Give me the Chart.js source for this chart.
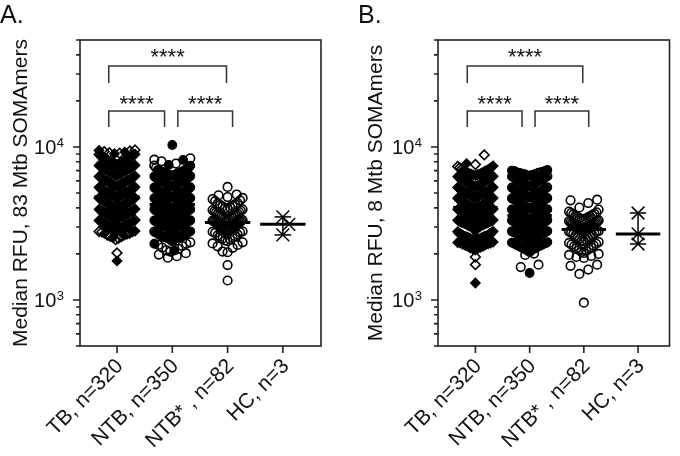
<!DOCTYPE html>
<html lang="en">
<head>
    <meta charset="UTF-8">
    <meta name="viewport" content="width=device-width, initial-scale=1.0">
    <title>Median RFU, Mtb SOMAmers</title>
    <script src="https://cdn.jsdelivr.net/npm/chart.js"></script>
    <style>
        body {
            margin: 0;
            background: #fff;
        }
        .wrap {
            position: relative;
            width: 680px;
            height: 456px;
        }
        .panel {
            position: absolute;
            top: 0;
            width: 340px;
            height: 456px;
        }
    </style>
</head>
<body>

<div class="wrap">
    <div class="panel" style="left:0"><canvas id="chartA" width="340" height="456"></canvas></div>
    <div class="panel" style="left:340px"><canvas id="chartB" width="340" height="456"></canvas></div>
</div>

<script>
    const categories = ['TB, n=320', 'NTB, n=350', 'NTB* , n=82', 'HC, n=3'];
    const yTicks = [500, 600, 700, 800, 900, 1000, 2000, 3000, 4000, 5000, 6000, 7000, 8000, 9000,
                    10000, 20000, 30000, 40000, 50000];
    const majorTicks = [1000, 10000];
    const sigLabel = '****';

    // Panel A: 83 Mtb SOMAmers
    const tbOpenA = [9560, 9410, 9320, 9160, 9090, 8920, 8830, 8630, 8500, 8300, 8190, 7980, 7850, 7680, 7490,
        7220, 6950, 6710, 6390, 6100, 5840, 5550, 5300, 5060, 4870, 4630, 4400, 4160, 3970, 3810, 3680, 3520, 3400, 3330,
        3240, 3170, 3110, 3070, 3000, 2980, 2920, 2890, 2840, 2800, 2780, 2730, 2700, 2650, 2610, 2590, 2530, 2480, 2030];
    const tbFilledA = [9490, 9260, 9040,
        8960, 8840, 8770, 8690, 8580, 8520, 8430, 8340, 8290, 8210, 8130, 8060, 8010,
        7970, 7920, 7860, 7810, 7770, 7720, 7650, 7600, 7570, 7510, 7470, 7420, 7380, 7330, 7290, 7240, 7200, 7160,
        7130, 7090, 7060, 7030, 7010,
        6980, 6930, 6900, 6860, 6820, 6770, 6740, 6700, 6650, 6610, 6580, 6530, 6500, 6460, 6420, 6390, 6350, 6310,
        6290, 6250, 6220, 6190, 6160, 6140, 6110, 6090, 6060, 6040, 6030, 6020, 6010, 6000,
        5980, 5950, 5930, 5900, 5880, 5850, 5830, 5800, 5780, 5760, 5730, 5710, 5680, 5660, 5640, 5610, 5590, 5560,
        5540, 5520, 5500, 5470, 5450, 5430, 5410, 5390, 5360, 5340, 5320, 5300, 5280, 5260, 5240, 5220, 5200, 5180,
        5160, 5150, 5130, 5110, 5100, 5080, 5070, 5060, 5050, 5040, 5030, 5020, 5010, 5000,
        4990, 4970, 4960, 4940, 4920, 4910, 4890, 4870, 4860, 4840, 4830, 4810, 4790, 4780, 4760, 4740, 4730, 4720,
        4700, 4680, 4670, 4650, 4640, 4620, 4610, 4590, 4580, 4560, 4550, 4540, 4530, 4520, 4510, 4500,
        4490, 4480, 4460, 4450, 4440, 4420, 4410, 4400, 4380, 4370, 4350, 4340, 4330, 4310, 4300, 4290, 4270, 4260,
        4250, 4230, 4220, 4200, 4190, 4170, 4160, 4150, 4140, 4130, 4120, 4100, 4090, 4080, 4070, 4060, 4050, 4040,
        4030, 4020, 4010, 4005, 4015, 4025,
        3990, 3970, 3950, 3930, 3910, 3890, 3870, 3850, 3830, 3810, 3800, 3790, 3770, 3760, 3740, 3720, 3700, 3690,
        3670, 3650, 3640, 3620, 3610, 3600, 3590, 3580, 3570, 3560, 3550, 3540, 3530, 3520, 3510, 3500,
        3480, 3450, 3420, 3390, 3360, 3340, 3310, 3290, 3260, 3240, 3210, 3190, 3170, 3150, 3130, 3110, 3090, 3070,
        3050, 3030, 3020, 3000,
        2980, 2940, 2900, 2870, 2820, 2780, 2720, 2640, 2560, 1800];
    const ntbOpenA = [8420, 8260, 8050, 7780, 7540, 7310, 7050, 6780,
        6500, 6200, 5900, 5600, 5300, 5000, 4700, 4400, 4100, 3800, 3500, 3250, 3000, 2800, 2680, 2600,
        2460, 2420, 2380, 2330, 2290, 2250, 2200, 2160, 2110, 2070, 2020, 1980, 1930, 1890];
    const ntbFilledA = [10300, 8220, 7630,
        7540, 7330, 7190, 7080, 7000,
        6970, 6930, 6880, 6840, 6800, 6750, 6710, 6670, 6620, 6580, 6540, 6500, 6460, 6420, 6380, 6340, 6300, 6270,
        6230, 6200, 6170, 6140, 6110, 6080, 6060, 6040, 6020, 6000,
        5980, 5950, 5920, 5890, 5860, 5830, 5800, 5770, 5740, 5710, 5680, 5650, 5620, 5600, 5570, 5540, 5510, 5490,
        5460, 5440, 5410, 5390, 5360, 5340, 5310, 5290, 5270, 5240, 5220, 5200, 5180, 5160, 5140, 5120, 5100, 5090,
        5070, 5060, 5050, 5040, 5030, 5020, 5010, 5005, 5000,
        4990, 4970, 4950, 4940, 4920, 4900, 4890, 4870, 4850, 4840, 4820, 4800, 4790, 4770, 4750, 4740, 4720, 4700,
        4690, 4670, 4660, 4640, 4630, 4610, 4600, 4590, 4570, 4560, 4550, 4540, 4530, 4520, 4510, 4505, 4500,
        4490, 4480, 4470, 4450, 4440, 4430, 4420, 4400, 4390, 4380, 4370, 4350, 4340, 4330, 4320, 4310, 4290, 4280,
        4270, 4260, 4250, 4240, 4230, 4210, 4200, 4190, 4180, 4170, 4160, 4150, 4140, 4130, 4120, 4110, 4100, 4090,
        4080, 4070, 4060, 4050, 4045, 4040, 4035, 4030, 4020, 4015, 4010, 4000,
        3990, 3980, 3960, 3950, 3940, 3920, 3910, 3900, 3880, 3870, 3860, 3840, 3830, 3820, 3800, 3790, 3780, 3760,
        3750, 3740, 3720, 3710, 3700, 3690, 3670, 3660, 3650, 3640, 3620, 3610, 3600, 3590, 3580, 3570, 3560, 3550,
        3545, 3540, 3535, 3530, 3525, 3520, 3515, 3510, 3505, 3500, 3630, 3730, 3810, 3970,
        3490, 3470, 3460, 3440, 3430, 3410, 3400, 3380, 3370, 3350, 3340, 3320, 3310, 3290, 3280, 3260, 3250, 3230,
        3220, 3200, 3190, 3180, 3160, 3150, 3140, 3120, 3110, 3100, 3090, 3080, 3070, 3060, 3050, 3040, 3035, 3030,
        3025, 3020, 3015, 3010, 3005, 3000, 3130, 3270, 3390,
        2990, 2970, 2950, 2930, 2910, 2890, 2870, 2850, 2830, 2810, 2790, 2770, 2750, 2730, 2710, 2690, 2670, 2650,
        2630, 2610, 2600, 2590, 2580, 2570, 2560, 2550, 2540, 2530, 2520, 2510, 2960, 2880, 2760, 2640, 2570, 2530,
        2470, 2330, 2100];
    const ntbStarA = [5480, 4890, 4830, 4700, 4640, 4560, 4480, 4420,
        4300, 4260, 4210, 4170, 4120, 4080, 4040, 3990, 3950, 3910, 3870, 3830, 3790, 3750, 3720, 3680, 3650,
        3610, 3580, 3550, 3520, 3490, 3460, 3430, 3400, 3380, 3350, 3330, 3300, 3280, 3260, 3240, 3220,
        3200, 3180, 3160, 3140, 3120, 3100, 3080, 3060, 3040, 3020, 3000, 2980, 2960, 2940, 2920, 2900, 2880,
        2860, 2840, 2810, 2790, 2770, 2740,
        2680, 2640, 2610, 2580, 2550, 2520, 2490, 2450, 2420, 2380, 2340, 2290, 2240, 2190,
        2070, 2050, 1690, 1340];
    const hcA = [3490, 3120, 2660];
    const mediansA = [4730, 4200, 3210, 3120];

    // Panel B: 8 Mtb SOMAmers
    const tbOpenB = [8870, 7680, 7450, 7300, 7160, 6600, 6300, 5900, 5500, 5100, 4700,
        4300, 3900, 3500, 3200, 2900, 2700, 2600, 2480, 2360, 2250, 2180, 1910, 1700];
    const tbFilledB = [7780, 7510, 7340, 7190, 7060, 7010,
        6960, 6910, 6850, 6800, 6740, 6690, 6640, 6590, 6540, 6490, 6440, 6400, 6350, 6310, 6270, 6230, 6190, 6160,
        6130, 6100, 6070, 6050, 6030, 6010,
        5980, 5940, 5910, 5880, 5850, 5820, 5780, 5750, 5720, 5690, 5660, 5630, 5600, 5570, 5540, 5520, 5490, 5460,
        5440, 5410, 5390, 5360, 5340, 5310, 5290, 5270, 5250, 5230, 5210, 5190, 5170, 5150, 5130, 5110, 5090, 5080,
        5060, 5050, 5040, 5030, 5015, 5000,
        4990, 4970, 4950, 4930, 4910, 4890, 4870, 4850, 4830, 4810, 4790, 4770, 4760, 4740, 4720, 4700, 4690, 4670,
        4650, 4640, 4620, 4610, 4590, 4580, 4570, 4560, 4550, 4540, 4530, 4520, 4510, 4500,
        4490, 4470, 4460, 4440, 4430, 4410, 4400, 4380, 4370, 4350, 4340, 4320, 4310, 4290, 4280, 4260, 4250, 4230,
        4220, 4200, 4190, 4180, 4160, 4150, 4140, 4120, 4110, 4100, 4090, 4080, 4070, 4060, 4050, 4040, 4030, 4020,
        4010, 4000,
        3990, 3980, 3970, 3950, 3940, 3930, 3910, 3900, 3890, 3870, 3860, 3850, 3830, 3820, 3810, 3790, 3780, 3770,
        3750, 3740, 3730, 3710, 3700, 3690, 3680, 3660, 3650, 3640, 3630, 3610, 3600, 3590, 3580, 3570, 3560, 3550,
        3540, 3530, 3520, 3510, 3505, 3500, 3545, 3595, 3645, 3695, 3755, 3805, 3855, 3905, 3955, 3985,
        3490, 3470, 3450, 3430, 3410, 3390, 3370, 3350, 3330, 3310, 3290, 3270, 3250, 3230, 3210, 3190, 3170, 3150,
        3130, 3110, 3090, 3070, 3050, 3030, 3010, 3000, 3480, 3440, 3400, 3360, 3320, 3280, 3240, 3200, 3160, 3120,
        3080, 3040, 3020, 3060, 3100, 3140, 3180, 3220, 3260, 3300,
        2990, 2960, 2940, 2910, 2890, 2860, 2840, 2810, 2790, 2760, 2740, 2720, 2700, 2680, 2660, 2640, 2620, 2600,
        2590, 2580, 2570, 2560, 2550, 2540, 2530, 2520, 2510, 2500, 2650, 2610,
        2490, 2470, 2450, 2430, 2410, 2390, 2370, 2350, 2330, 2310, 2290, 2270, 2240, 2210, 2180, 2150, 2120,
        1290];
    const ntbOpenB = [6950, 6820, 6760, 6700, 6610, 6530, 6440, 6350, 6240, 6150, 5800, 5400, 5000, 4600, 4300,
        4000, 3700, 3400, 3100, 2800, 2600, 2450, 2350, 2280, 2220, 2160, 2110, 2060, 2010, 1970, 1700, 1640];
    const ntbFilledB = [7070, 7010,
        6960, 6900, 6850, 6790, 6740, 6680, 6630, 6570, 6520, 6470, 6420, 6370, 6320, 6270, 6230, 6180, 6140, 6090,
        6050, 6010,
        5970, 5930, 5890, 5850, 5810, 5770, 5730, 5700, 5660, 5620, 5590, 5560, 5520, 5490, 5460, 5430, 5400, 5370,
        5340, 5310, 5280, 5260, 5230, 5200, 5180, 5150, 5130, 5110, 5090, 5070, 5060, 5040, 5030, 5020, 5010, 5000,
        4990, 4960, 4940, 4920, 4890, 4870, 4850, 4830, 4810, 4790, 4770, 4750, 4730, 4710, 4690, 4670, 4660, 4640,
        4620, 4610, 4590, 4580, 4560, 4550, 4530, 4520, 4510, 4500,
        4490, 4470, 4450, 4430, 4410, 4390, 4370, 4360, 4340, 4320, 4300, 4290, 4270, 4250, 4240, 4220, 4210, 4190,
        4180, 4160, 4150, 4130, 4120, 4110, 4090, 4080, 4070, 4060, 4050, 4040, 4030, 4020, 4015, 4010, 4005, 4000,
        3990, 3970, 3950, 3940, 3920, 3900, 3890, 3870, 3850, 3840, 3820, 3810, 3790, 3780, 3760, 3750, 3730, 3720,
        3700, 3690, 3680, 3660, 3650, 3640, 3630, 3620, 3610, 3600, 3590, 3580, 3570, 3565, 3560, 3555, 3550, 3545,
        3535, 3530, 3520, 3510, 3500, 3490, 3480, 3470, 3460, 3450, 3440, 3430, 3420, 3410, 3400, 3390, 3380, 3370,
        3360, 3350, 3340, 3330, 3320, 3310, 3300, 3290, 3280, 3270, 3260, 3250, 3240, 3230, 3220, 3210, 3200, 3190,
        3180, 3170, 3160, 3150, 3140, 3130, 3120, 3110, 3100, 3090, 3080, 3070, 3060, 3050, 3040, 3030, 3020, 3010,
        3000, 3525, 3465, 3395, 3335, 3255, 3185, 3115,
        2990, 2980, 2970, 2960, 2950, 2940, 2930, 2920, 2910, 2900, 2890, 2880, 2870, 2860, 2850, 2840, 2830, 2820,
        2810, 2800, 2790, 2780, 2770, 2760, 2750, 2740, 2730, 2720, 2710, 2700, 2690, 2680, 2670, 2660, 2650, 2640,
        2630, 2620, 2610, 2600, 2590, 2580, 2570, 2560, 2550, 2540, 2530, 2520, 2510, 2500, 2985, 2875, 2765, 2655,
        2545, 2935, 2825, 2715,
        2490, 2470, 2450, 2430, 2410, 2390, 2370, 2350, 2330, 2310, 2290, 2270, 2250, 2230, 2210, 2190, 2170, 2150,
        2130, 2110,
        1500];
    const ntbStarB = [4520, 4480, 4300, 4020, 3900,
        3780, 3740, 3700, 3660, 3620, 3580, 3550, 3520, 3490, 3460, 3430, 3400, 3370, 3340, 3310, 3280, 3250, 3220,
        3190, 3160, 3140, 3120, 3100, 3080, 3060, 3040, 3020, 3000, 2990, 2980, 2960, 2950, 2940, 2930, 2920, 2900,
        2880, 2860, 2840, 2820, 2800, 2780, 2750, 2720, 2690, 2660, 2630, 2600, 2570, 2540, 2510, 2480, 2450, 2420,
        2390, 2360, 2330, 2300, 2270, 2240, 2210, 2180, 2150, 2120, 2090, 2060, 2030, 2000, 1970, 1940, 1910, 1880,
        1700, 1670, 1580, 1480, 960];
    const hcB = [3700, 2700, 2320];
    const mediansB = [4020, 3560, 2890, 2700];

    // significance brackets, in axis units
    const brackets = [
        { from: -0.15, to: 1.98, bar: 33800, leg: 26200, text: 41800 },
        { from: -0.15, to: 0.86, bar: 17200, leg: 13500, text: 20600 },
        { from: 1.10, to: 2.09, bar: 17200, leg: 13500, text: 20600 }
    ];

    const FONT = '"Liberation Sans", Arial, Helvetica, sans-serif';
    const Y_MIN = 500, Y_MAX = 50000;
    const W = 340, H = 456, PAD_T = 40, PAD_B = 110;

    // column scatter layout: rows by value, spread sideways, capped width
    function swarm(groups, cat, pxPerCat, pxPerDecade, half) {
        const pts = [];
        groups.forEach(g => g.vals.forEach(v => pts.push({ v: v, open: g.open })));
        const binH = 11 / pxPerDecade;
        const bins = new Map();
        pts.forEach(p => {
            const b = Math.floor(Math.log10(p.v) / binH);
            if (!bins.has(b)) bins.set(b, []);
            bins.get(b).push(p);
        });
        bins.forEach(list => {
            list.sort((a, b) => a.v - b.v);
            const n = list.length;
            const step = n > 1 ? Math.min(9, 2 * half / (n - 1)) : 0;
            list.forEach((p, k) => {
                let slot;
                if (n % 2) slot = k === 0 ? 0 : Math.ceil(k / 2) * (k % 2 ? -1 : 1);
                else slot = (Math.floor(k / 2) + 0.5) * (k % 2 ? 1 : -1);
                p.x = cat + slot * step / pxPerCat;
            });
        });
        return pts;
    }

    // small groups: push markers aside when they would touch
    function dodge(vals, cat, pxPerCat, pxPerDecade, size) {
        const placed = [];
        vals.slice().sort((a, b) => b - a).forEach(v => {
            const y = Math.log10(v) * pxPerDecade;
            const tries = [0, 6, -6, 12, -12];
            let dx = 0;
            for (const t of tries) {
                if (placed.every(q => (q.dx - t) ** 2 + (q.y - y) ** 2 >= size * size)) { dx = t; break; }
            }
            placed.push({ v: v, y: y, dx: dx });
        });
        return placed.map(q => ({ x: cat + q.dx / pxPerCat, y: q.v }));
    }

    function pointSet(pts, open, style, radius, order) {
        return {
            type: 'scatter',
            data: pts.filter(p => p.open === open).map(p => ({ x: p.x, y: p.v })),
            pointStyle: style,
            pointRadius: radius,
            pointBorderWidth: open ? 1.6 : 1.2,
            pointBorderColor: '#000',
            pointBackgroundColor: open ? 'rgba(0,0,0,0)' : '#000',
            order: order
        };
    }

    function lineSet(points, width) {
        return {
            type: 'line',
            data: points,
            borderColor: '#000',
            borderWidth: width,
            pointRadius: 0,
            fill: false,
            order: 0
        };
    }

    function decorPlugin(p) {
        return {
            id: 'decor',
            afterDraw(chart) {
                const ctx = chart.ctx;
                const a = chart.chartArea;
                const xs = chart.scales.x, ys = chart.scales.y;
                ctx.save();

                // frame and ticks
                ctx.strokeStyle = '#222';
                ctx.lineWidth = 1.6;
                ctx.strokeRect(a.left, a.top, a.right - a.left, a.bottom - a.top);
                ctx.beginPath();
                yTicks.forEach(v => {
                    const y = ys.getPixelForValue(v);
                    const len = majorTicks.includes(v) ? 7 : 4;
                    ctx.moveTo(a.left, y);
                    ctx.lineTo(a.left - len, y);
                });
                categories.forEach((c, i) => {
                    const x = xs.getPixelForValue(i);
                    ctx.moveTo(x, a.bottom);
                    ctx.lineTo(x, a.bottom + 7);
                });
                ctx.stroke();

                // brackets
                ctx.strokeStyle = '#333';
                ctx.lineWidth = 1.5;
                ctx.fillStyle = '#111';
                ctx.font = '22px ' + FONT;
                ctx.textAlign = 'center';
                ctx.textBaseline = 'alphabetic';
                brackets.forEach(b => {
                    const x1 = xs.getPixelForValue(b.from), x2 = xs.getPixelForValue(b.to);
                    const yb = ys.getPixelForValue(b.bar), yl = ys.getPixelForValue(b.leg);
                    ctx.beginPath();
                    ctx.moveTo(x1, yl);
                    ctx.lineTo(x1, yb);
                    ctx.lineTo(x2, yb);
                    ctx.lineTo(x2, yl);
                    ctx.stroke();
                    ctx.fillText(sigLabel, (x1 + x2) / 2, ys.getPixelForValue(b.text) + 12.5);
                });

                // y tick labels, 10 with a raised exponent
                majorTicks.forEach(v => {
                    const y = ys.getPixelForValue(v);
                    const exp = String(Math.round(Math.log10(v)));
                    const right = a.left - 16;
                    ctx.textAlign = 'right';
                    ctx.font = '13px ' + FONT;
                    const ew = ctx.measureText(exp).width;
                    ctx.fillText(exp, right, y + 0.5);
                    ctx.font = '20px ' + FONT;
                    ctx.fillText('10', right - ew - 0.5, y + 7.2);
                });

                // x labels
                ctx.font = '21px ' + FONT;
                ctx.textAlign = 'right';
                ctx.textBaseline = 'middle';
                categories.forEach((c, i) => {
                    ctx.save();
                    ctx.translate(xs.getPixelForValue(i) + 3, a.bottom + 17);
                    ctx.rotate(-Math.PI / 4);
                    ctx.fillText(c, 0, 0);
                    ctx.restore();
                });

                // axis title
                ctx.save();
                ctx.translate(p.titleX, (a.top + a.bottom) / 2);
                ctx.rotate(-Math.PI / 2);
                ctx.textAlign = 'center';
                ctx.textBaseline = 'alphabetic';
                ctx.font = '21px ' + FONT;
                ctx.fillText(p.title, 0, 0);
                ctx.restore();

                // panel letter
                ctx.textAlign = 'left';
                ctx.textBaseline = 'alphabetic';
                ctx.font = '25px ' + FONT;
                ctx.fillText(p.letter, p.letterX, 23);

                ctx.restore();
            }
        };
    }

    function makePanel(id, p) {
        const pxPerCat = (W - p.padL - p.padR) / (p.xMax - p.xMin);
        const pxPerDecade = (H - PAD_T - PAD_B) / (Math.log10(Y_MAX) - Math.log10(Y_MIN));

        const tb = swarm([{ vals: p.tbOpen, open: true }, { vals: p.tbFilled, open: false }], 0, pxPerCat, pxPerDecade, 18);
        const ntb = swarm([{ vals: p.ntbOpen, open: true }, { vals: p.ntbFilled, open: false }], 1, pxPerCat, pxPerDecade, 18);
        const ntbs = swarm([{ vals: p.ntbStar, open: true }], 2, pxPerCat, pxPerDecade, 15);
        const hc = dodge(p.hc, 3, pxPerCat, pxPerDecade, 9);

        const datasets = [
            pointSet(tb, true, 'rectRot', 4.8, 3),
            pointSet(tb, false, 'rectRot', 4.8, 2),
            pointSet(ntb, true, 'circle', 4.3, 3),
            pointSet(ntb, false, 'circle', 4.3, 2),
            pointSet(ntbs, true, 'circle', 4.3, 3),
            {
                type: 'scatter',
                data: hc,
                pointStyle: 'crossRot',
                pointRadius: 9,
                pointBorderWidth: 1.5,
                pointBorderColor: '#000',
                order: 2
            }
        ];
        p.medians.forEach((m, i) => {
            datasets.push(lineSet([{ x: i - 0.41, y: m }, { x: i + 0.41, y: m }], 3));
        });
        const hcMax = Math.max(...p.hc), hcMin = Math.min(...p.hc);
        datasets.push(lineSet([{ x: 3, y: hcMax }, { x: 3, y: hcMin }], 1.5));
        datasets.push(lineSet([{ x: 2.85, y: hcMax }, { x: 3.15, y: hcMax }], 1.5));
        datasets.push(lineSet([{ x: 2.85, y: hcMin }, { x: 3.15, y: hcMin }], 1.5));

        return new Chart(document.getElementById(id), {
            type: 'scatter',
            data: { datasets: datasets },
            options: {
                responsive: false,
                animation: false,
                events: [],
                layout: { padding: { left: p.padL, right: p.padR, top: PAD_T, bottom: PAD_B } },
                plugins: { legend: { display: false }, tooltip: { enabled: false } },
                scales: {
                    x: { type: 'linear', min: p.xMin, max: p.xMax, display: false },
                    y: { type: 'logarithmic', min: Y_MIN, max: Y_MAX, display: false }
                }
            },
            plugins: [decorPlugin(p)]
        });
    }

    makePanel('chartA', {
        tbOpen: tbOpenA, tbFilled: tbFilledA, ntbOpen: ntbOpenA, ntbFilled: ntbFilledA,
        ntbStar: ntbStarA, hc: hcA, medians: mediansA,
        padL: 80, padR: 19, xMin: -0.67, xMax: 3.69,
        title: 'Median RFU, 83 Mtb SOMAmers', titleX: 27, letter: 'A.', letterX: 0
    });

    makePanel('chartB', {
        tbOpen: tbOpenB, tbFilled: tbFilledB, ntbOpen: ntbOpenB, ntbFilled: ntbFilledB,
        ntbStar: ntbStarB, hc: hcB, medians: mediansB,
        padL: 98, padR: 7, xMin: -0.69, xMax: 3.58,
        title: 'Median RFU, 8 Mtb SOMAmers', titleX: 42, letter: 'B.', letterX: 18
    });
</script>

</body>
</html>
